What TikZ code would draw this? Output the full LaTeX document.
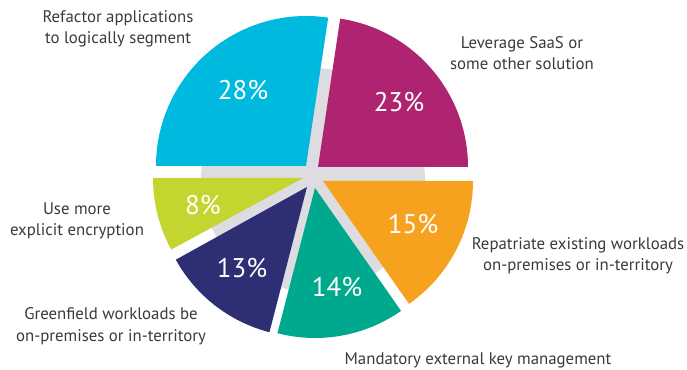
\documentclass[tikz,border=0pt]{standalone}
\usepackage{xcolor}
\usepackage{fontspec}
\setmainfont{PT Sans}
\usepackage{tikz}
\definecolor{refcyan}{HTML}{00B9DF}
\definecolor{refmagenta}{HTML}{AE2470}
\definecolor{reforange}{HTML}{F7A21F}
\definecolor{refteal}{HTML}{00A98D}
\definecolor{refnavy}{HTML}{2E2E74}
\definecolor{reflime}{HTML}{C3D52E}
\definecolor{refshadow}{HTML}{DCDCE1}
\definecolor{reftext}{HTML}{3A3A3A}
\newcommand{\pieslice}[4][blue!75]{
\fill[#1] #2 -- ++(#3:150) arc[start angle=#3, end angle=#4, radius=150] -- cycle;
}
\tikzset{
  pct/.style={text=white, font=\fontsize{27}{30}\selectfont, inner sep=0pt},
  caption/.style={text=reftext, align=center, font=\fontsize{16.8}{21.5}\selectfont, inner sep=0pt}
}

\begin{document}
\begin{tikzpicture}[x=1pt, y=1pt]
      \useasboundingbox (0,0) rectangle (687,369);
      % shadow behind the pie
      \fill[refshadow] (313,189) circle[radius=112];
      % slices: apex, start angle, end angle
      \pieslice[refcyan]{(306,203)}{81.5}{180}
      \pieslice[refmagenta]{(318,202)}{0}{81.5}
      \pieslice[reforange]{(323,188)}{-55}{0}
      \pieslice[refteal]{(315,181)}{-104.5}{-55}
      \pieslice[refnavy]{(307,182)}{-151}{-104.5}
      \pieslice[reflime]{(303,191)}{180}{208.5}
      % percentages
      \node[pct] (p28) at (243,279) {28\%};
      \node[pct] (p23) at (399,267) {23\%};
      \node[pct] (p15) at (413,145) {15\%};
      \node[pct] (p14) at (337,82) {14\%};
      \node[pct] (p13) at (242,101) {13\%};
      \node[pct] (p8) at (203,164) {8\%};
      % captions
      \node[caption] (refactor) at (118,340) {Refactor applications\\to logically segment};
      \node[caption] (saas) at (522,316) {Leverage SaaS or\\some other solution};
      \node[caption] (repatriate) at (578,113) {Repatriate existing workloads\\on-premises or in-territory};
      \node[caption] (encrypt) at (77,148) {Use more\\explicit encryption};
      \node[caption] (greenfield) at (111,43) {Greenfield workloads be\\on-premises or in-territory};
      \node[caption] (keymgmt) at (478,9) {Mandatory external key management};
    \end{tikzpicture}
\end{document}
